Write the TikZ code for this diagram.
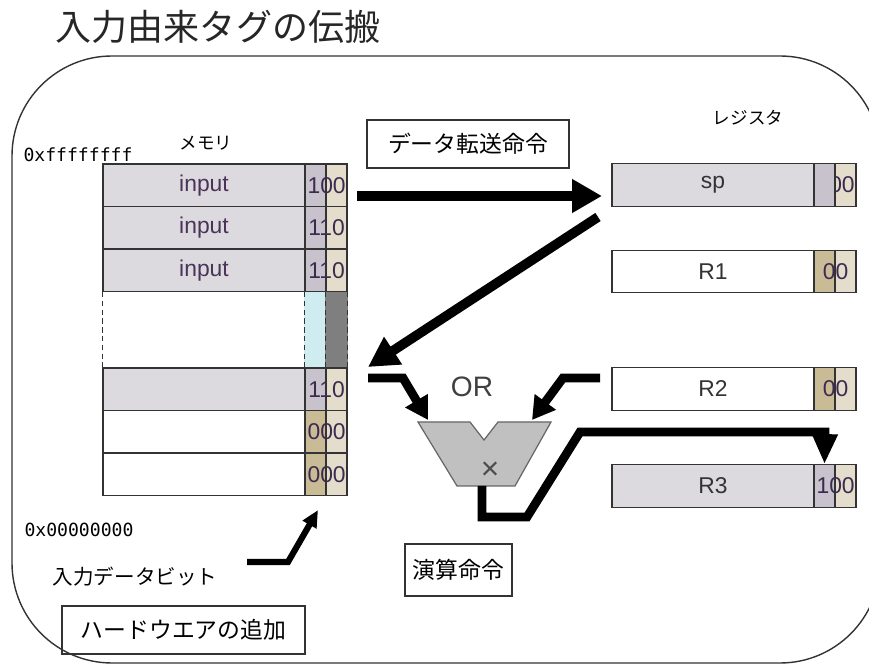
\documentclass[tikz,border=0pt]{standalone}
\usepackage{fontspec}
\setmainfont{Liberation Sans}
\newfontfamily\jp{Noto Sans CJK JP}
\newfontfamily\hexfont{DejaVu Sans Mono}
\usetikzlibrary{arrows.meta}
\definecolor{cellline}{HTML}{333333}
\definecolor{memgray}{HTML}{DCDADF}
\definecolor{taglav}{HTML}{C7C2CB}
\definecolor{tagbeige}{HTML}{E5DDCB}
\definecolor{tagkhaki}{HTML}{C9BB96}
\definecolor{tagcyan}{HTML}{CFEDF0}
\definecolor{tagdark}{HTML}{7F7F7F}
\definecolor{gatefill}{HTML}{C0C0C0}
\definecolor{bittext}{HTML}{3B2B50}
\definecolor{wordtext}{HTML}{4A3358}
\begin{document}
\begin{tikzpicture}[x=0.02cm, y=-0.02cm,
  cell/.style={draw=cellline, line width=0.7pt, inner sep=0pt, minimum height=0.85cm},
  word/.style={cell, minimum width=4.04cm, font=\fontsize{13}{15}\selectfont},
  tagcell/.style={cell, minimum width=0.42cm},
  bitnum/.style={inner sep=0pt, font=\fontsize{13}{15}\selectfont, text=bittext},
  jtext/.style={inner sep=1pt, font=\jp\fontsize{#1}{#1}\selectfont},
  cmdbox/.style={draw=cellline, line width=0.8pt, minimum height=0.96cm, inner sep=0pt, font=\jp\fontsize{13}{16}\selectfont},
  fat/.style={line width=#1, line join=miter},
  fat/.default=5pt
]
\useasboundingbox (0,0) rectangle (869,668);
\clip (0,0) rectangle (869,668);
\draw[cellline, line width=0.8pt, rounded corners=2cm] (12,56) rectangle (880,663);

\node[jtext=20.5, text=black!85] (title) at (218,27) {入力由来タグの伝搬};
\node[jtext=10] (memlabel) at (206,143) {メモリ};
\node[jtext=10] (reglabel) at (748,118) {レジスタ};
\node[inner sep=0pt, font=\hexfont\fontsize{10.3}{12}\selectfont] (hiaddr) at (78,155) {0xffffffff};
\node[inner sep=0pt, font=\hexfont\fontsize{10.3}{12}\selectfont] (loaddr) at (79,530) {0x00000000};

\foreach \n/\y/\wfill/\txt/\tfill/\bits in {1/185.25/memgray/input/taglav/100, 2/227.75/memgray/input/taglav/110, 3/270.25/memgray/input/taglav/110, 4/389.25/memgray//taglav/110, 5/431.75/white//tagkhaki/000, 6/474.25/white//tagkhaki/000}
{
  \node[word, fill=\wfill, text=wordtext] (m\n) at (204,\y) {\txt};
  \node[tagcell, fill=\tfill] (m\n-a) at (315.5,\y) {};
  \node[tagcell, fill=tagbeige] (m\n-b) at (336.5,\y) {};
  \node[bitnum] (m\n-t) at (m\n-a.east) {\bits};
  \draw[cellline, line width=0.9pt] (m\n-a.north east) -- (m\n-a.south east);
}
\fill[tagcyan] (m3-a.south west) rectangle (m4-a.north east);
\fill[tagdark] (m3-b.south west) rectangle (m4-b.north east);
\draw[cellline, line width=0.7pt, dash pattern=on 3pt off 2pt] (m3.south west) -- (m4.north west);
\draw[cellline, line width=0.7pt, dash pattern=on 3pt off 2pt] (m3-a.south west) -- (m4-a.north west);
\draw[cellline, line width=0.7pt, dash pattern=on 3pt off 2pt] (m3-b.south west) -- (m4-b.north west);
\draw[cellline, line width=0.7pt, dash pattern=on 3pt off 2pt] (m3-b.south east) -- (m4-b.north east);

\foreach \n/\y/\wfill/\tfill/\bits in {sp/185/memgray/taglav/100, R1/271.5/white/tagkhaki/00, R2/389/white/tagkhaki/00, R3/486/memgray/taglav/100}
{
  \node[word, fill=\wfill, text=black!80] (\n) at (713,\y) {\n};
  \node[tagcell, fill=\tfill] (\n-a) at (824.5,\y) {};
  \node[tagcell, fill=tagbeige] (\n-b) at (845.5,\y) {};
  \node[bitnum] (\n-t) at (\n-a.east) {\bits};
  \draw[cellline, line width=0.9pt] (\n-a.north east) -- (\n-a.south east);
}
\node[tagcell, fill=taglav] (sp-cover) at (sp-a) {};

\node[cmdbox, minimum width=4.04cm] (xfer) at (468,144) {データ転送命令};
\node[cmdbox, minimum width=2.14cm, minimum height=1.04cm] (alu) at (458.5,570) {演算命令};
\node[cmdbox, line width=1.6pt, minimum width=4.86cm] (hwadd) at (183.5,630) {ハードウエアの追加};
\node[jtext=11.7] (inbit) at (135,577) {入力データビット};

\draw[draw=black!60, fill=gatefill, line width=0.7pt] (418,422) -- (470,422) -- (484,440) -- (498,422) -- (551,422) -- (515,486) -- (457,486) -- cycle;
\node[font=\fontsize{16}{18}\selectfont, text=black!75] (orlabel) at (472,387) {OR};
\node[inner sep=0pt, font=\fontsize{18}{18}\selectfont, text=black!70] (cross) at (490,471) {×};

\coordinate (a1s) at (357,196);
\coordinate (a1e) at (602,196);
\coordinate (a2s) at (598,217);
\coordinate (a2e) at (368,367);
\coordinate (a3s) at (368,378);
\coordinate (a3k) at (403,378);
\coordinate (a3e) at (428,420);
\coordinate (a4s) at (600,378);
\coordinate (a4k) at (563,378);
\coordinate (a4e) at (532,420);
\coordinate (a5s) at (482,486);
\coordinate (a5k1) at (482,517);
\coordinate (a5k2) at (527,517);
\coordinate (a5k3) at (580,432);
\coordinate (a5k4) at (825,432);
\coordinate (a6s) at (247,562);
\coordinate (a6k) at (288,562);
\coordinate (a6e) at (318,510);
\draw[fat=5.5pt, -{Triangle[length=0.6cm, width=0.64cm]}] (a1s) -- (a1e);
\draw[fat=5.5pt, -{Triangle[length=0.6cm, width=0.62cm]}] (a2s) -- (a2e);
\draw[fat, -{Triangle[length=0.45cm, width=0.5cm]}] (a3s) -- (a3k) -- (a3e);
\draw[fat, -{Triangle[length=0.45cm, width=0.5cm]}] (a4s) -- (a4k) -- (a4e);
\draw[fat, -{Triangle[length=0.6cm, width=0.48cm]}] (a5s) -- (a5k1) -- (a5k2) -- (a5k3) -- (a5k4) -- (R3-a.north);
\draw[fat=3.5pt, -{Triangle[length=0.34cm, width=0.3cm]}] (a6s) -- (a6k) -- (a6e);
\end{tikzpicture}
\end{document}
